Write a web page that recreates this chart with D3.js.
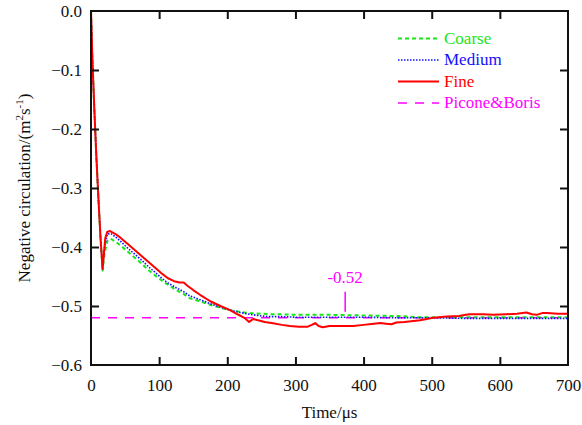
<!DOCTYPE html>
<html>
<head>
<meta charset="utf-8">
<script src="https://cdn.jsdelivr.net/npm/d3@7"></script>
<style>
  html, body { margin: 0; padding: 0; background: #fff; }
  svg { display: block; }
  svg text { font-family: "Liberation Serif", "Times New Roman", Times, "DejaVu Serif", "Noto Serif", serif !important; }
</style>
</head>
<body>
<svg id="chart" width="582" height="425"></svg>
<script>
// ---- data ----
const xTicks = [0, 100, 200, 300, 400, 500, 600, 700];
const yTicks = [0.0, -0.1, -0.2, -0.3, -0.4, -0.5, -0.6];

const fineTime = [0, 2, 5, 8, 11, 14, 17, 19, 21, 24, 28, 36, 44, 54, 65, 75, 84, 95, 105, 113, 122, 130, 136, 142, 150, 160, 175, 190, 204, 215, 225, 232, 238, 245, 255, 265, 280, 292, 305, 318, 324, 329, 334, 340, 350, 365, 385, 400, 415, 425, 433, 441, 448, 460, 483, 502, 522, 540, 550, 556, 575, 590, 610, 625, 639, 647, 654, 662, 669, 685, 700];
const fineValues = [0, -0.08, -0.17, -0.25, -0.32, -0.385, -0.437, -0.41, -0.385, -0.374, -0.373, -0.378, -0.385, -0.395, -0.406, -0.416, -0.425, -0.436, -0.446, -0.453, -0.458, -0.460, -0.460, -0.466, -0.473, -0.481, -0.492, -0.500, -0.507, -0.514, -0.520, -0.527, -0.522, -0.524, -0.527, -0.529, -0.532, -0.534, -0.535, -0.535, -0.532, -0.529, -0.534, -0.536, -0.534, -0.534, -0.534, -0.532, -0.530, -0.529, -0.530, -0.531, -0.528, -0.527, -0.524, -0.520, -0.518, -0.517, -0.515, -0.514, -0.514, -0.515, -0.514, -0.513, -0.511, -0.514, -0.515, -0.512, -0.512, -0.513, -0.513];

const gridTime = [0, 2, 5, 8, 11, 14, 17, 20, 24, 29, 36, 44, 54, 65, 75, 84, 95, 105, 113, 125, 135, 145, 157, 175, 190, 204, 219, 233, 250, 263, 280, 300, 350, 400, 450, 480, 500, 550, 600, 650, 700];
const mediumValues = [0, -0.08, -0.17, -0.25, -0.32, -0.385, -0.437, -0.40, -0.378, -0.377, -0.383, -0.391, -0.402, -0.413, -0.423, -0.433, -0.444, -0.454, -0.461, -0.469, -0.475, -0.483, -0.488, -0.496, -0.502, -0.507, -0.511, -0.514, -0.517, -0.518, -0.518, -0.519, -0.519, -0.519, -0.520, -0.520, -0.520, -0.521, -0.521, -0.521, -0.521];
const coarseValues = [0, -0.08, -0.17, -0.25, -0.32, -0.385, -0.440, -0.41, -0.390, -0.386, -0.391, -0.398, -0.408, -0.419, -0.429, -0.439, -0.449, -0.458, -0.464, -0.473, -0.479, -0.487, -0.491, -0.498, -0.503, -0.507, -0.510, -0.512, -0.513, -0.514, -0.514, -0.515, -0.515, -0.516, -0.517, -0.519, -0.519, -0.519, -0.519, -0.519, -0.519];

const referenceValue = -0.52;          // Picone & Boris
const annotationTime = 373;
const annotationLabel = "-0.52";

const seriesNames = ["Coarse", "Medium", "Fine", "Picone&Boris"];

// ---- layout ----
const FONT = "'Liberation Serif', 'Times New Roman', Times, 'DejaVu Serif', serif";
const svg = d3.select("#chart");
const L = 91, R = 568, T = 11, B = 365;
const x = d3.scaleLinear().domain([0, 700]).range([L, R]);
const y = d3.scaleLinear().domain([-0.6, 0]).range([B, T]);

const styles = {
  "Coarse":       { color: "#19e619", width: 2,   dash: "4,3" },
  "Medium":       { color: "#1010ff", width: 1.6, dash: "1.5,1.5" },
  "Fine":         { color: "#ff0000", width: 2,   dash: null },
  "Picone&Boris": { color: "#ff00ff", width: 1.6, dash: "9,8" }
};

const line = d3.line().x(d => x(d[0])).y(d => y(d[1]));
const zip = (ts, vs) => ts.map((t, i) => [t, vs[i]]);

const plot = svg.append("g");
plot.append("clipPath").attr("id", "clip").append("rect")
  .attr("x", L).attr("y", T - 2).attr("width", R - L).attr("height", B - T + 2);
const clipped = plot.append("g").attr("clip-path", "url(#clip)");

function addPath(data, name) {
  const s = styles[name];
  const p = clipped.append("path").datum(data)
    .attr("d", line).attr("fill", "none")
    .attr("stroke", s.color).attr("stroke-width", s.width)
    .attr("stroke-linejoin", "round");
  if (s.dash) p.attr("stroke-dasharray", s.dash);
}
addPath([[0, referenceValue], [700, referenceValue]], "Picone&Boris");
addPath(zip(gridTime, coarseValues), "Coarse");
addPath(zip(gridTime, mediumValues), "Medium");
addPath(zip(fineTime, fineValues), "Fine");

// ---- axes (ticks inside, mirrored) ----
const fmtY = d => d === 0 ? "0.0" : d3.format(".1f")(d);
const axB = svg.append("g").attr("transform", `translate(0,${B})`)
  .call(d3.axisBottom(x).tickValues(xTicks).tickSize(-8).tickPadding(14).tickFormat(d3.format("d")));
const axT = svg.append("g").attr("transform", `translate(0,${T})`)
  .call(d3.axisTop(x).tickValues(xTicks).tickSize(-8).tickFormat(""));
const axL = svg.append("g").attr("transform", `translate(${L},0)`)
  .call(d3.axisLeft(y).tickValues(yTicks).tickSize(-8).tickPadding(9).tickFormat(fmtY));
const axR = svg.append("g").attr("transform", `translate(${R},0)`)
  .call(d3.axisRight(y).tickValues(yTicks).tickSize(-8).tickFormat(""));
[axB, axT, axL, axR].forEach(a => {
  a.attr("font-family", FONT);
  a.select(".domain").remove();
  a.selectAll(".tick line").attr("stroke", "#111").attr("stroke-width", 2);
  a.selectAll("text").attr("font-size", 17).attr("fill", "#111");
});
axB.selectAll(".tick").filter(d => d === 0 || d === 700).select("line").remove();
axT.selectAll(".tick").filter(d => d === 0 || d === 700).select("line").remove();
axL.selectAll(".tick").filter(d => d === 0 || d === -0.6).select("line").remove();
axR.selectAll(".tick").filter(d => d === 0 || d === -0.6).select("line").remove();

svg.append("rect").attr("x", L).attr("y", T).attr("width", R - L).attr("height", B - T)
  .attr("fill", "none").attr("stroke", "#111").attr("stroke-width", 2);

// ---- axis titles ----
svg.append("text").attr("x", (L + R) / 2).attr("y", 418)
  .attr("font-family", FONT)
  .attr("text-anchor", "middle").attr("font-size", 17).attr("fill", "#111")
  .text("Time/\u03bcs");

const yt = svg.append("text")
  .attr("font-family", FONT)
  .attr("transform", `translate(30,${(T + B) / 2}) rotate(-90)`)
  .attr("text-anchor", "middle").attr("font-size", 17).attr("fill", "#111");
yt.append("tspan").text("Negative circulation/(m");
yt.append("tspan").attr("font-size", 11).attr("dy", -7).text("2");
yt.append("tspan").attr("font-size", 17).attr("dy", 7).text("s");
yt.append("tspan").attr("font-size", 11).attr("dy", -7).text("-1");
yt.append("tspan").attr("font-size", 17).attr("dy", 7).text(")");

// ---- annotation ----
svg.append("line")
  .attr("x1", x(annotationTime)).attr("x2", x(annotationTime))
  .attr("y1", y(referenceValue) - 26).attr("y2", y(referenceValue) - 6)
  .attr("stroke", "#ff00ff").attr("stroke-width", 1.5);
svg.append("text").attr("x", x(annotationTime)).attr("y", 283)
  .attr("font-family", FONT)
  .attr("text-anchor", "middle").attr("font-size", 17).attr("fill", "#ff00ff")
  .text(annotationLabel);

// ---- legend ----
const lg = svg.append("g").attr("font-family", FONT);
seriesNames.forEach((name, i) => {
  const s = styles[name];
  const base = 43.5 + i * 21.5;
  const l = lg.append("line").attr("x1", 398).attr("x2", 439)
    .attr("y1", base - 5).attr("y2", base - 5)
    .attr("stroke", s.color).attr("stroke-width", s.width);
  if (s.dash) l.attr("stroke-dasharray", s.dash);
  lg.append("text").attr("x", 444).attr("y", base)
    .attr("font-size", 17).attr("fill", s.color).text(name);
});
</script>
</body>
</html>
